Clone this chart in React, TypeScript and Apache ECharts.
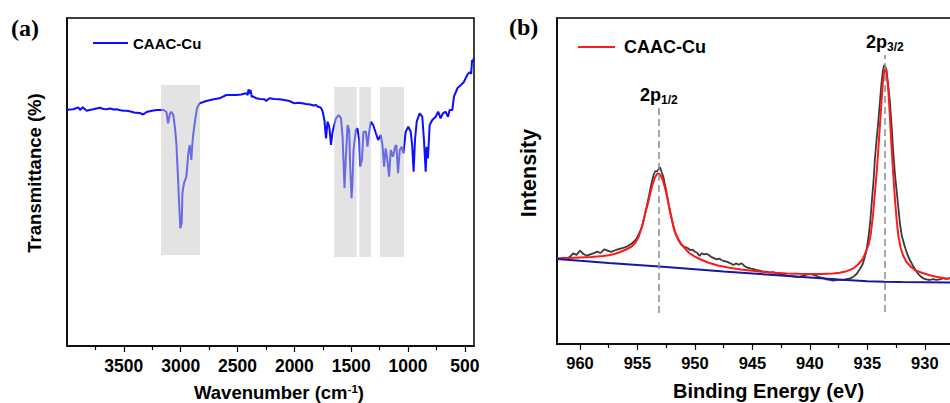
import React, { useEffect, useRef } from 'react';
import * as echarts from 'echarts';

const FONT = '"Liberation Sans", Arial, Helvetica, sans-serif';

// ---------- Panel (a): FTIR ----------
const ftirTicks = [3500, 3000, 2500, 2000, 1500, 1000, 500];
const ftirMinorTicks = [3750, 3250, 2750, 2250, 1750, 1250, 750];
// [wavenumber (cm-1), transmittance (a.u.)]
const ftirData: number[][] = [
  [4000, 236], [3975, 236.5], [3945, 236.7], [3915, 238], [3901, 238.7], [3885, 236], [3862, 238.7],
  [3840, 236.5], [3827, 235.3], [3800, 236], [3769, 236.7], [3740, 237.5], [3711, 238.3], [3680, 237],
  [3652, 236.7], [3620, 237.5], [3590, 236.5], [3564, 236.7], [3530, 235.8], [3500, 235.3], [3476, 235.3],
  [3440, 234.5], [3410, 233.5], [3389, 233.3], [3360, 233], [3330, 231.5], [3300, 234], [3272, 234.7],
  [3240, 235.5], [3210, 236], [3184, 236], [3150, 236], [3125, 234], [3111, 222.7], [3095, 232],
  [3082, 234.3], [3065, 231], [3050, 218], [3038, 202.7], [3024, 169.3], [3015, 146], [3003, 117.7],
  [2991, 123], [2985, 152.7], [2971, 162.7], [2950, 169.3], [2933, 192.7], [2921, 201], [2906, 186],
  [2900, 198], [2892, 209.3], [2877, 222.7], [2857, 237.7], [2833, 242.7], [2800, 244], [2775, 245],
  [2720, 246.5], [2658, 247.7], [2599, 251], [2550, 251], [2512, 251], [2470, 251.5], [2424, 252.7],
  [2410, 251], [2404, 256.7], [2396, 252.7], [2386, 256], [2375, 249.3], [2360, 249.5], [2336, 247.7],
  [2300, 247], [2263, 246.7], [2248, 245], [2219, 247.7], [2180, 247], [2132, 246.7], [2090, 246],
  [2044, 245], [2000, 242.7], [1956, 243.3], [1920, 242.5], [1898, 242], [1860, 241.5], [1830, 240.5],
  [1810, 241], [1790, 239], [1781, 239.3], [1765, 238], [1751, 234.3], [1735, 225], [1722, 207.7],
  [1708, 224.3], [1693, 219.3], [1678, 201], [1664, 214.3], [1649, 221], [1634, 227.7], [1611, 231],
  [1590, 227.7], [1576, 209.3], [1559, 157.7], [1547, 189.3], [1532, 221], [1518, 216], [1509, 179.3],
  [1497, 147.7], [1489, 162.7], [1480, 196], [1459, 216], [1445, 217.7], [1430, 206], [1421, 179.3],
  [1406, 186], [1392, 214.3], [1371, 214.3], [1357, 199.3], [1342, 214.3], [1327, 224.3], [1307, 221],
  [1283, 212.7], [1263, 206], [1240, 211], [1225, 201], [1211, 179.3], [1197, 197.7], [1182, 186],
  [1167, 169.3], [1152, 196], [1132, 189.3], [1114, 199.3], [1103, 201], [1088, 172.7], [1073, 196],
  [1056, 199.3], [1041, 192.7], [1021, 214.3], [998, 219.3], [977, 214.3], [963, 199.3], [951, 174.3],
  [939, 206], [924, 224.3], [898, 232.7], [875, 229.3], [860, 206], [845, 174.3], [836, 199.3],
  [825, 187.7], [810, 221], [787, 226], [757, 229.3], [735, 234.3], [714, 227.7], [693, 232.7],
  [670, 234.3], [649, 229.3], [634, 236], [611, 236], [596, 249.3], [565, 258], [535, 261],
  [509, 264], [480, 271], [459, 274], [445, 272], [437, 286], [430, 284], [422, 288],
];
// shaded bands: [from, to, top, bottom]
const ftirBands: number[][] = [
  [3173, 2830, 261, 91],
  [1649, 1452, 259, 89],
  [1429, 1326, 259, 89],
  [1247, 1036, 259, 89],
];

// ---------- Panel (b): XPS Cu 2p ----------
const xpsTicks = [960, 955, 950, 945, 940, 935, 930];
const xpsMinorTicks = [957.5, 952.5, 947.5, 942.5, 937.5, 932.5, 927.5];
const xpsRaw: number[][] = [
  [962.0, 86], [961.7, 85.2], [961.4, 86.4], [961.1, 85.6], [960.8, 88], [960.6, 90.7], [960.3, 89.2],
  [960.0, 93.3], [959.7, 90], [959.4, 88.3], [959.1, 89.6], [958.8, 90.8], [958.5, 92.3], [958.2, 91],
  [957.9, 94.7], [957.6, 93.4], [957.3, 92.2], [957.0, 93.5], [956.7, 94.6], [956.4, 95.7], [956.1, 96.6],
  [955.8, 98.2], [955.5, 100.5], [955.2, 103.5], [955.0, 107], [954.8, 112], [954.6, 117.3], [954.4, 127],
  [954.2, 137.3], [954.0, 148], [953.8, 159.5], [953.6, 169], [953.45, 173], [953.3, 172.5], [953.15, 175],
  [953.04, 176.7], [952.9, 172], [952.75, 167.3], [952.6, 159], [952.45, 150], [952.3, 140.7], [952.1, 129],
  [951.9, 119], [951.7, 110.5], [951.45, 104], [951.2, 99.5], [951.0, 97.3], [950.8, 96.8], [950.6, 95.7],
  [950.4, 93.8], [950.2, 94.3], [950.0, 92.3], [949.8, 91.2], [949.6, 88], [949.4, 90.7], [949.2, 89.6],
  [949.0, 90.2], [948.8, 89], [948.6, 87.2], [948.3, 85.7], [948.1, 84.7], [947.9, 85.4], [947.7, 84],
  [947.5, 83], [947.24, 82.3], [947.0, 81.2], [946.8, 80], [946.67, 79], [946.4, 80.6], [946.2, 79.2],
  [945.94, 80.7], [945.7, 78.1], [945.5, 76.7], [945.2, 75.6], [944.9, 74.8], [944.64, 74], [944.4, 73.4],
  [944.1, 72.6], [943.77, 72.3], [943.5, 71.4], [943.2, 71.9], [942.9, 70.6], [942.6, 70], [942.3, 69],
  [942.0, 68.4], [941.74, 68], [941.4, 67.6], [941.1, 66.8], [940.87, 67.3], [940.6, 68.2], [940.3, 69.3],
  [940.0, 70], [939.7, 69], [939.4, 68], [939.1, 66.5], [938.8, 65.8], [938.56, 64.7], [938.3, 64.2],
  [937.97, 63.3], [937.7, 63.8], [937.4, 64.3], [937.1, 64], [936.8, 64.8], [936.5, 65.6], [936.2, 67.3],
  [935.9, 70.5], [935.65, 75], [935.4, 80], [935.2, 88], [935.07, 94], [934.9, 107], [934.75, 122],
  [934.6, 144], [934.45, 165], [934.35, 184], [934.2, 204], [934.06, 221], [933.9, 243], [933.77, 261],
  [933.65, 273], [933.54, 279], [933.45, 277.5], [933.33, 274], [933.2, 260], [933.05, 244], [932.9, 220],
  [932.76, 194], [932.6, 170], [932.46, 154], [932.3, 136], [932.17, 121], [932.0, 108], [931.74, 97.3],
  [931.5, 89], [931.3, 84], [931.0, 77.5], [930.72, 72.3], [930.45, 68.5], [930.15, 65.7], [929.85, 64.6],
  [929.57, 64], [929.3, 64.8], [929.0, 64.2], [928.7, 64.7], [928.4, 65.8], [928.1, 65], [927.8, 66],
  [927.5, 65.3], [927.2, 66], [926.9, 65.2], [926.5, 65.8], [926.1, 65], [925.7, 65.6], [925.2, 65.3],
];
const xpsFit: number[][] = [
  [962.0, 85.5], [961.0, 86], [960.0, 86.5], [959.0, 87], [958.0, 88], [957.5, 88.8], [957.0, 90],
  [956.5, 92], [956.0, 94.5], [955.5, 97.5], [955.2, 101], [954.9, 107], [954.7, 114], [954.5, 122],
  [954.3, 132], [954.1, 140], [953.9, 150], [953.7, 159], [953.5, 166], [953.3, 170], [953.15, 170.5],
  [953.0, 169], [952.8, 164], [952.6, 156], [952.4, 146], [952.2, 134], [952.0, 124], [951.8, 114],
  [951.5, 106], [951.2, 100], [950.9, 96], [950.5, 91], [950.0, 87.3], [949.5, 84.5], [948.8, 81.3],
  [948.0, 78.5], [947.0, 76.3], [946.0, 74.5], [945.0, 73.2], [944.0, 72], [943.0, 71.2], [942.0, 70.6],
  [941.0, 70.2], [940.0, 70], [939.0, 70], [938.0, 70.4], [937.4, 71.3], [936.8, 72.8], [936.2, 75.7],
  [935.8, 79.5], [935.4, 85], [935.1, 93], [934.9, 99], [934.7, 110], [934.5, 130], [934.35, 150],
  [934.2, 170], [934.06, 192], [933.9, 220], [933.77, 242], [933.65, 262], [933.5, 275], [933.45, 277],
  [933.35, 272], [933.2, 258], [933.05, 230], [932.9, 198], [932.75, 170], [932.6, 145], [932.45, 124],
  [932.3, 108], [932.1, 96], [931.9, 89], [931.6, 82], [931.2, 77], [930.8, 73.5], [930.2, 71],
  [929.5, 68.5], [929.0, 67.3], [928.3, 65.8], [927.6, 65.2], [926.5, 64.6], [925.2, 64.2],
];
const xpsBackground: number[][] = [
  [962, 85.1], [960, 83.2], [957.5, 81], [955, 79], [952.5, 76.9], [950, 74.8], [947.5, 72.6],
  [945, 70.5], [942.5, 68.4], [940, 66.4], [937.5, 64.4], [935, 62.8], [933.5, 62.2], [932, 61.9],
  [930, 61.7], [927.5, 61.5], [925.2, 61.4],
];
const peakEnergies = [953.13, 933.48];
const peakNames = ['1/2', '3/2'];
const peakLineTop = [236, 289];
const peakLineBottom = [31, 32];

const boldText = (size: number) => ({ fontSize: size, fontWeight: 'bold' as const, color: '#000', fontFamily: FONT });
const plain = (v: number) => String(v);

export default function App() {
  const ref = useRef<HTMLDivElement>(null);
  useEffect(() => {
    if (!ref.current) return;
    const chart = echarts.init(ref.current, undefined, { renderer: 'svg' });
    const option: any = {
      animation: false,
      backgroundColor: '#fff',
      graphic: [
        { type: 'text', x: 11, y: 28, style: { text: '(a)', font: 'bold 24px "Liberation Serif", "Times New Roman", serif', fill: '#000', verticalAlign: 'middle' } },
        { type: 'text', x: 509, y: 27, style: { text: '(b)', font: 'bold 24px "Liberation Serif", "Times New Roman", serif', fill: '#000', verticalAlign: 'middle' } },
      ],
      legend: [
        {
          data: ['CAAC-Cu'], left: 93, top: 35.5, padding: 0, itemWidth: 35, itemHeight: 2, icon: 'rect',
          textStyle: boldText(15), selectedMode: false,
        },
        {
          data: ['CAAC-Cu (b)'], left: 578, top: 38, padding: 0, itemWidth: 37, itemHeight: 2, icon: 'rect',
          formatter: () => 'CAAC-Cu', selectedMode: false,
          textStyle: { ...boldText(18), padding: [0, 0, 0, 4] },
        },
      ],
      grid: [
        { left: 67, top: 18, width: 407, height: 328, show: true, borderColor: '#000', borderWidth: 1.5, containLabel: false, outerBoundsMode: 'none' },
        { left: 557, top: 18, width: 423, height: 326, show: true, borderColor: '#000', borderWidth: 1.5, containLabel: false, outerBoundsMode: 'none' },
      ],
      xAxis: [
        {
          gridIndex: 0, type: 'value', min: 420, max: 4000, inverse: true, position: 'bottom',
          axisLine: { show: true, lineStyle: { color: '#000', width: 1.5 } },
          axisTick: { show: true, customValues: ftirTicks, length: 6, lineStyle: { color: '#000', width: 1.2 } },
          axisLabel: { customValues: ftirTicks, ...boldText(17.5), margin: 11, formatter: plain },
          splitLine: { show: false },
          name: '{n|Wavenumber (cm}{s|-1}{n|)}', nameLocation: 'middle', nameGap: 36.5,
          nameTextStyle: {
            padding: [0, 0, 0, 17],
            rich: {
              n: { ...boldText(18.5), lineHeight: 19 },
              s: { ...boldText(11.5), lineHeight: 11, verticalAlign: 'top' },
            },
          },
        },
        {
          gridIndex: 0, type: 'value', min: 420, max: 4000, inverse: true, position: 'bottom',
          axisLine: { show: false },
          axisTick: { show: true, customValues: ftirMinorTicks, length: 4, lineStyle: { color: '#000', width: 1.2 } },
          axisLabel: { show: false }, splitLine: { show: false },
        },
        {
          gridIndex: 1, type: 'value', min: 925.2, max: 962, inverse: true, position: 'bottom',
          axisLine: { show: true, lineStyle: { color: '#000', width: 1.5 } },
          axisTick: { show: true, customValues: xpsTicks, length: 6, lineStyle: { color: '#000', width: 1.2 } },
          axisLabel: { customValues: xpsTicks, ...boldText(16.5), margin: 10, formatter: plain },
          splitLine: { show: false },
          name: 'Binding Energy (eV)', nameLocation: 'middle', nameGap: 37,
          nameTextStyle: { ...boldText(20) },
        },
        {
          gridIndex: 1, type: 'value', min: 925.2, max: 962, inverse: true, position: 'bottom',
          axisLine: { show: false },
          axisTick: { show: true, customValues: xpsMinorTicks, length: 4, lineStyle: { color: '#000', width: 1.2 } },
          axisLabel: { show: false }, splitLine: { show: false },
        },
      ],
      yAxis: [
        {
          gridIndex: 0, type: 'value', min: 0, max: 328,
          axisLine: { show: true, lineStyle: { color: '#000', width: 1.5 } },
          axisTick: { show: false }, axisLabel: { show: false }, splitLine: { show: false },
          name: 'Transmittance (%)', nameLocation: 'middle', nameGap: 23,
          nameTextStyle: { ...boldText(18.5), padding: [0, 0, 0, 18] },
        },
        {
          gridIndex: 1, type: 'value', min: 0, max: 326,
          axisLine: { show: true, lineStyle: { color: '#000', width: 1.5 } },
          axisTick: { show: false }, axisLabel: { show: false }, splitLine: { show: false },
          name: 'Intensity', nameLocation: 'middle', nameGap: 17,
          nameTextStyle: { ...boldText(21.5), padding: [0, 0, 0, 16] },
        },
      ],
      series: [
        {
          name: 'CAAC-Cu', type: 'line', xAxisIndex: 0, yAxisIndex: 0, data: ftirData,
          symbol: 'none', z: 2, lineStyle: { color: '#0d0dff', width: 2 }, itemStyle: { color: '#0d0dff' },
        },
        {
          name: 'bands', type: 'custom', xAxisIndex: 0, yAxisIndex: 0, z: 5, data: ftirBands,
          encode: { x: [0, 1], y: [2, 3] },
          renderItem: (params: any, api: any) => {
            const p1 = api.coord([api.value(0), api.value(2)]);
            const p2 = api.coord([api.value(1), api.value(3)]);
            return {
              type: 'rect',
              shape: {
                x: Math.min(p1[0], p2[0]), y: Math.min(p1[1], p2[1]),
                width: Math.abs(p2[0] - p1[0]), height: Math.abs(p2[1] - p1[1]),
              },
              style: { fill: 'rgba(200,200,200,0.5)' },
            };
          },
        },
        {
          name: 'raw', type: 'line', xAxisIndex: 2, yAxisIndex: 1, data: xpsRaw,
          symbol: 'none', z: 2, lineStyle: { color: '#3a3a3a', width: 1.8 },
        },
        {
          name: 'CAAC-Cu (b)', type: 'line', xAxisIndex: 2, yAxisIndex: 1, data: xpsFit,
          symbol: 'none', z: 3, lineStyle: { color: '#ff1a1a', width: 2 }, itemStyle: { color: '#ff1a1a' },
          markLine: {
            silent: true, symbol: ['none', 'none'],
            lineStyle: { color: '#8c8c8c', type: [7, 4], width: 1.5 },
            data: peakEnergies.map((e, i) => [
              {
                coord: [e, peakLineBottom[i]],
                label: {
                  show: true, position: 'end', distance: 2,
                  formatter: `{a|2p}{b|${peakNames[i]}}`,
                  rich: {
                    a: { ...boldText(18), lineHeight: 22 },
                    b: { ...boldText(12), lineHeight: 12, verticalAlign: 'bottom' },
                  },
                },
              },
              { coord: [e, peakLineTop[i]] },
            ]),
          },
        },
        {
          name: 'background', type: 'line', xAxisIndex: 2, yAxisIndex: 1, data: xpsBackground,
          symbol: 'none', z: 4, lineStyle: { color: '#1818a0', width: 2 },
        },
      ],
    };
    chart.setOption(option);
    return () => chart.dispose();
  }, []);
  return (
    <div
      ref={ref}
      style={{ position: 'absolute', left: 0, top: 0, width: 950, height: 403, background: '#fff' }}
    />
  );
}
